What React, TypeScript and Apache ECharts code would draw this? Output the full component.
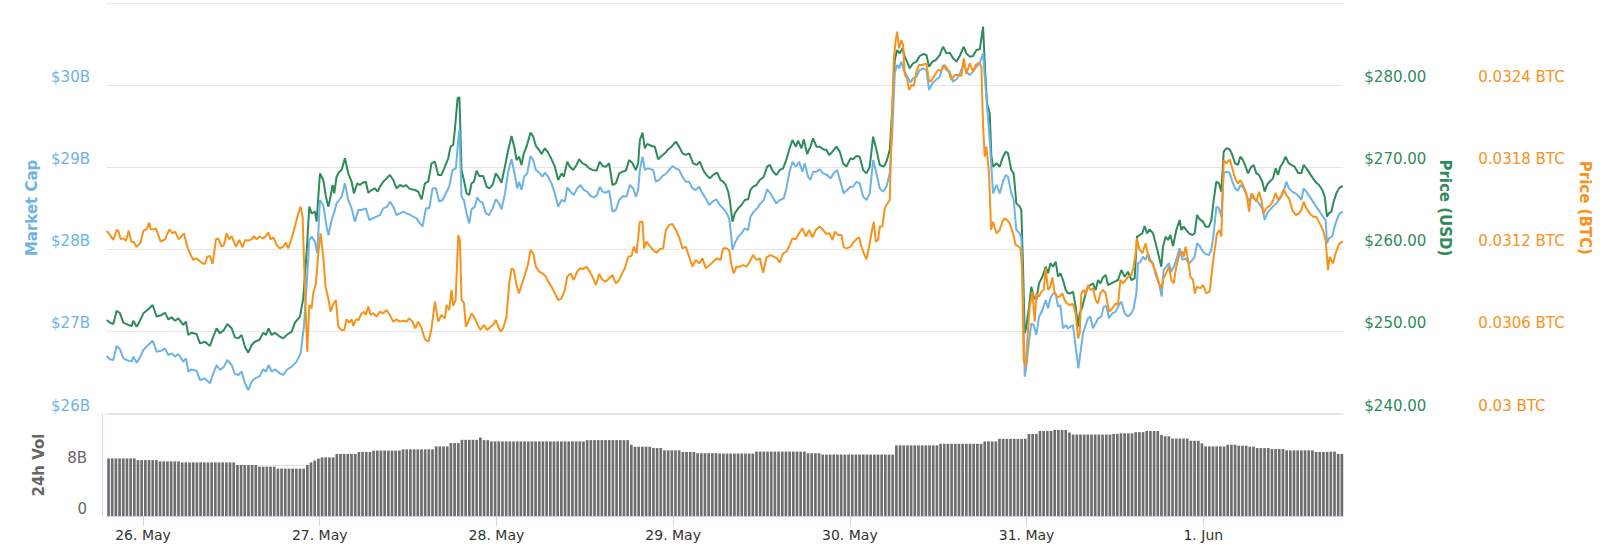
import React, { useEffect, useRef } from "react";
import * as echarts from "echarts";

// x values are hours relative to 26 May 2019 00:00 UTC
const RANGE_START_H = -4.93;
const RANGE_END_H = 163.07;

const dayTicksH = [0, 24, 48, 72, 96, 120, 144];
const dayLabels = ["26. May", "27. May", "28. May", "29. May", "30. May", "31. May", "1. Jun"];

// Market cap (billions USD)
const marketCapB: [number, number][] = [
  [-4.94,26.695],[-4.48,26.654],[-4.03,26.646],[-3.58,26.817],[-3.12,26.776],[-2.67,26.666],[-1.99,26.638],[-1.54,26.626],[-1.31,26.687],[-0.86,26.613],[-0.41,26.678],[0.05,26.768],[0.72,26.829],[1.31,26.881],[1.86,26.747],[2.53,26.760],[2.99,26.788],[3.44,26.707],[3.89,26.727],[4.35,26.687],[4.80,26.719],[5.48,26.626],[5.84,26.666],[6.16,26.504],[6.61,26.532],[7.29,26.516],[7.74,26.402],[8.42,26.422],[9.10,26.361],[9.55,26.483],[10.01,26.585],[10.46,26.524],[11.00,26.565],[11.46,26.646],[12.05,26.585],[12.50,26.475],[12.95,26.463],[13.40,26.504],[13.86,26.361],[14.31,26.280],[14.76,26.382],[15.21,26.422],[15.80,26.443],[16.35,26.532],[16.71,26.504],[17.07,26.585],[17.48,26.504],[17.93,26.532],[18.61,26.483],
  [19.06,26.463],[19.52,26.524],[20.20,26.565],[20.88,26.626],[21.42,26.727],[21.87,27.052],[22.23,27.540],[22.60,28.108],[22.91,28.149],[23.37,28.088],[23.68,27.946],[24.05,28.596],[24.50,28.535],[24.95,28.271],[25.22,28.169],[25.63,28.352],[25.95,28.433],[26.31,28.555],[26.67,28.596],[26.99,28.637],[27.44,28.799],[27.89,28.596],[28.35,28.494],[28.80,28.332],[29.25,28.474],[29.71,28.474],[30.29,28.494],[30.75,28.352],[31.20,28.372],[31.74,28.393],[32.20,28.413],[32.65,28.494],[33.19,28.515],[33.55,28.576],[34.01,28.515],[34.46,28.413],[34.91,28.433],[35.37,28.454],[35.82,28.433],[36.36,28.413],[36.72,28.393],[37.18,28.372],[37.63,28.311],[37.99,28.271],[38.45,28.494],[38.90,28.494],[39.35,28.738],[39.80,28.738],[40.26,28.576],[40.71,28.596],[41.16,28.677],[41.61,28.758],[42.07,28.962],[42.52,28.982],[42.84,29.33],[43.0,29.45],
  [43.29,28.637],[43.61,28.596],[43.97,28.433],[44.33,28.311],[44.65,28.482],[45.10,28.515],[45.42,28.628],[45.78,28.576],[46.14,28.563],[46.60,28.433],[47.05,28.413],[47.50,28.494],[47.95,28.604],[48.41,28.555],[48.72,28.482],[49.18,28.669],[49.63,28.941],[50.08,29.092],[50.45,28.941],[50.85,28.738],[51.12,28.819],[51.44,28.718],[51.80,28.880],[52.21,28.921],[52.66,29.132],[53.03,29.083],[53.39,28.962],[53.84,28.929],[54.29,28.880],[54.61,28.929],[55.06,28.880],[55.52,28.799],[55.97,28.677],[56.42,28.515],[56.88,28.596],[57.33,28.576],[57.65,28.750],[58.10,28.698],[58.55,28.657],[59.00,28.738],[59.46,28.779],[59.91,28.718],[60.36,28.698],[60.81,28.645],[61.27,28.628],[61.72,28.657],[62.08,28.758],[62.45,28.698],[62.90,28.685],[63.35,28.710],[63.80,28.454],[64.26,28.474],[64.71,28.596],[65.25,28.645],[65.71,28.637],[66.16,28.779],[66.61,28.738],[66.97,28.637],[67.29,28.718],[67.52,28.962],
  [67.88,29.124],[68.20,28.962],[68.65,28.982],[69.33,28.962],[69.69,28.819],[70.14,28.840],[70.60,28.889],[71.05,28.913],[71.50,28.962],[71.95,29.010],[72.41,28.982],[72.86,28.962],[73.31,28.880],[73.77,28.819],[74.22,28.819],[74.67,28.738],[75.12,28.718],[75.58,28.758],[76.03,28.677],[76.48,28.616],[76.94,28.535],[77.39,28.576],[77.93,28.604],[78.38,28.535],[78.84,28.494],[79.20,28.454],[79.65,28.372],[79.88,28.210],[80.11,27.987],[80.42,28.068],[80.88,28.149],[81.33,28.189],[81.78,28.251],[82.23,28.230],[82.55,28.393],[83.00,28.454],[83.46,28.494],[83.91,28.555],[84.36,28.596],[84.82,28.726],[85.27,28.677],[85.63,28.616],[86.08,28.555],[86.54,28.596],[87.08,28.616],[87.44,28.738],[87.80,28.921],[88.26,29.063],[88.71,29.002],[89.16,29.063],[89.61,28.941],[89.93,29.043],[90.38,28.880],[90.70,28.840],[91.06,28.941],[91.52,28.941],[91.97,28.970],
  [92.42,28.921],[92.97,28.901],[93.42,28.860],[93.87,28.921],[94.33,28.962],[94.78,28.819],[95.23,28.677],[95.68,28.718],[96.14,28.758],[96.50,28.758],[96.95,28.819],[97.40,28.799],[97.86,28.637],[98.31,28.596],[98.76,28.677],[99.22,29.083],[99.67,28.921],[100.12,28.738],[100.57,28.698],[101.03,28.758],[101.48,28.921],[101.84,29.449],[102.16,30.140],[102.48,30.241],[102.75,30.201],[103.06,30.282],[103.38,30.180],[103.83,30.107],[104.29,30.026],[104.65,30.079],[105.10,30.099],[105.55,30.180],[106.01,30.201],[106.46,30.180],[106.82,29.937],[107.28,30.018],[107.73,30.058],[108.27,30.099],[108.73,30.241],[109.18,30.180],[109.63,30.160],[110.08,30.038],[110.54,30.067],[110.99,30.132],[111.53,30.262],[111.89,30.160],[112.35,30.119],[112.80,30.160],[113.25,30.221],[113.71,30.262],[114.16,30.384],[114.39,30.099],[114.70,29.733],[115.06,29.327],[115.29,29.002],[115.52,28.677],[115.97,28.779],[116.42,28.677],
  [116.87,28.819],[117.24,28.901],[117.55,28.880],[118.00,28.677],[118.32,28.596],[118.68,28.230],[119.14,28.189],[119.36,28.129],[119.59,27.377],[119.82,26.443],[120.04,26.565],[120.41,26.889],[120.72,27.093],[121.04,27.072],[121.40,26.951],[121.76,27.174],[122.22,27.255],[122.67,27.377],[122.99,27.276],[123.30,27.398],[123.67,27.458],[124.03,27.458],[124.34,27.296],[124.66,27.316],[125.02,27.032],[125.39,27.072],[125.70,27.032],[126.02,27.052],[126.38,27.072],[126.74,26.808],[127.11,26.544],[127.38,26.727],[127.74,26.971],[128.10,27.072],[128.42,27.154],[128.74,27.174],[129.10,27.032],[129.46,27.093],[129.78,27.154],[130.23,27.174],[130.55,27.296],[130.91,27.304],[131.27,27.154],[131.73,27.215],[132.18,27.235],[132.63,27.316],[132.95,27.357],[133.40,27.215],[133.85,27.174],[134.31,27.215],[134.62,27.276],[134.99,27.458],[135.21,27.824],[135.53,27.844],[135.89,27.905],[136.25,27.865],[136.57,27.946],[136.89,27.865],[137.25,27.824],[137.61,27.682],[138.06,27.580],[138.43,27.418],[138.70,27.743],[139.06,27.783],[139.42,27.824],[139.74,27.723],[140.19,27.804],[140.87,28.007],
  [141.24,27.865],[141.69,27.885],[142.15,27.824],[142.60,27.865],[142.92,27.905],[143.23,28.068],[143.60,28.035],[144.05,27.966],[144.41,27.938],[144.86,27.926],[145.18,27.987],[145.50,28.190],[145.86,28.515],[146.22,28.494],[146.54,28.393],[146.86,28.921],[147.22,28.941],[147.67,28.929],[148.03,28.819],[148.40,28.738],[148.80,28.710],[149.12,28.779],[149.57,28.738],[149.94,28.657],[150.30,28.576],[150.61,28.637],[150.93,28.616],[151.29,28.596],[151.66,28.555],[152.11,28.494],[152.43,28.352],[152.74,28.433],[153.10,28.474],[153.56,28.515],[154.01,28.555],[154.37,28.596],[154.69,28.637],[155.01,28.698],[155.37,28.819],[155.73,28.738],[156.18,28.698],[156.64,28.677],[157.09,28.637],[157.41,28.596],[157.72,28.738],[158.18,28.685],[158.54,28.637],[158.99,28.576],[159.44,28.515],[159.90,28.454],[160.35,28.393],[160.71,28.352],[160.89,28.068],[161.16,28.129],[161.62,28.157],[161.93,28.271],[162.30,28.372],[162.61,28.433],[163.07,28.454]
];

// Price (USD)
const priceUsd: [number, number][] = [
  [-4.94,251.34],[-4.48,251.01],[-4.03,250.85],[-3.58,252.47],[-3.12,252.15],[-2.67,251.01],[-1.99,250.73],[-1.54,250.60],[-1.31,251.25],[-0.86,250.52],[-0.41,251.25],[0.05,252.15],[0.72,252.64],[1.31,253.16],[1.86,251.74],[2.53,251.94],[2.99,252.23],[3.44,251.41],[3.89,251.66],[4.35,251.25],[4.80,251.54],[5.48,250.73],[5.84,251.13],[6.16,249.51],[6.61,249.79],[7.29,249.63],[7.74,248.49],[8.42,248.69],[9.10,248.17],[9.55,249.30],[10.01,250.32],[10.46,249.71],[11.00,250.11],[11.46,250.85],[12.05,250.32],[12.50,249.22],[12.95,249.10],[13.40,249.51],[13.86,248.08],[14.31,247.35],[14.76,248.29],[15.21,248.69],[15.80,248.90],[16.35,249.79],[16.71,249.51],[17.07,250.32],[17.48,249.51],[17.93,249.79],[18.61,249.30],
  [19.06,249.10],[19.52,249.51],[20.20,249.91],[20.65,251.01],[21.33,251.74],[21.78,253.97],[22.23,259.46],[22.60,265.15],[22.91,264.33],[23.37,264.54],[23.59,263.32],[24.05,269.21],[24.50,268.40],[24.86,266.37],[25.18,265.15],[25.40,265.96],[25.77,267.79],[25.99,266.77],[26.31,268.80],[26.67,269.41],[26.99,269.62],[27.44,271.04],[27.89,269.21],[28.35,268.19],[28.66,266.77],[29.12,267.99],[29.48,267.79],[29.84,268.07],[30.29,268.19],[30.61,266.85],[31.06,267.18],[31.52,267.38],[31.88,266.98],[32.20,267.59],[32.65,268.19],[33.10,268.60],[33.55,269.01],[34.01,268.40],[34.46,267.38],[34.91,267.79],[35.37,267.59],[35.73,267.79],[36.18,267.38],[36.50,267.26],[36.95,267.18],[37.40,266.98],[37.86,266.04],[38.31,267.99],[38.76,268.19],[39.21,270.43],[39.67,270.63],[40.12,269.01],[40.57,269.01],[41.03,270.02],[41.48,271.04],[41.80,272.46],[42.16,272.66],[42.38,274.49],[42.75,278.35],[43.0,278.5],
  [43.29,269.62],[43.61,268.40],[43.97,266.77],[44.33,266.57],[44.65,267.99],[44.97,268.19],[45.33,269.54],[45.69,268.89],[46.23,268.89],[46.69,267.59],[47.05,267.38],[47.50,267.79],[47.95,269.21],[48.27,268.80],[48.72,268.07],[49.18,270.02],[49.63,272.05],[50.08,273.76],[50.45,272.46],[50.76,270.83],[51.12,271.24],[51.44,270.23],[51.76,271.65],[52.12,272.46],[52.66,274.17],[53.03,273.68],[53.39,272.54],[53.84,272.05],[54.16,271.57],[54.61,272.26],[55.06,271.73],[55.52,270.92],[55.97,270.02],[56.42,268.40],[56.88,269.21],[57.19,268.80],[57.65,270.63],[58.01,270.02],[58.46,269.62],[58.91,270.23],[59.28,270.92],[59.73,270.43],[60.18,270.23],[60.63,269.82],[61.09,269.62],[61.63,269.54],[62.08,270.63],[62.45,270.10],[62.90,270.02],[63.35,270.43],[63.80,267.79],[64.26,267.99],[64.71,269.21],[65.16,269.41],[65.62,269.54],[66.07,270.83],[66.52,270.43],[66.97,269.62],[67.29,270.43],[67.52,273.27],
  [67.88,274.17],[68.20,272.26],[68.51,272.79],[69.10,272.54],[69.55,272.46],[70.01,270.92],[70.46,271.32],[70.91,271.65],[71.37,272.14],[71.82,272.46],[72.41,273.07],[72.86,272.46],[73.31,271.65],[73.77,271.45],[74.22,271.65],[74.76,270.43],[75.21,270.23],[75.67,270.63],[76.12,269.62],[76.57,269.01],[77.03,268.60],[77.48,269.01],[78.02,269.29],[78.48,268.40],[78.84,268.19],[79.20,267.79],[79.52,266.98],[79.74,265.96],[80.11,263.32],[80.42,264.33],[80.88,264.94],[81.33,265.35],[81.78,265.96],[82.23,266.04],[82.55,267.18],[82.91,267.59],[83.37,267.79],[83.82,268.40],[84.36,268.80],[84.82,270.02],[85.18,270.23],[85.63,269.41],[86.08,269.01],[86.54,269.62],[86.99,269.82],[87.44,270.92],[87.80,272.05],[88.26,273.27],[88.71,272.46],[89.03,273.19],[89.48,272.26],[89.80,273.35],[90.25,271.57],[90.70,272.46],[91.06,273.48],[91.52,272.46],[91.97,272.46],
  [92.42,272.14],[92.88,272.05],[93.24,271.45],[93.69,271.85],[94.23,272.46],[94.69,271.85],[95.14,270.43],[95.59,270.02],[96.14,271.04],[96.50,270.92],[96.95,271.32],[97.40,271.24],[97.86,269.62],[98.31,269.21],[98.76,270.02],[99.22,273.68],[99.67,272.05],[100.12,270.23],[100.66,270.02],[101.03,270.63],[101.48,272.05],[101.84,277.33],[102.16,283.02],[102.48,284.24],[102.84,283.83],[103.20,284.44],[103.52,283.43],[103.83,282.82],[104.20,282.01],[104.65,282.62],[105.10,282.82],[105.55,283.51],[106.01,283.75],[106.46,283.63],[106.82,282.21],[107.28,282.82],[107.73,283.02],[108.27,283.63],[108.73,284.65],[109.18,283.83],[109.63,283.92],[110.08,283.23],[110.54,282.82],[110.99,283.51],[111.53,284.65],[111.89,283.83],[112.35,283.43],[112.80,283.51],[113.25,284.24],[113.71,284.32],[114.16,287.09],[114.43,281.80],[114.70,277.74],[115.06,276.52],[115.29,271.24],[115.52,270.02],[115.97,270.43],[116.42,270.02],
  [116.87,271.24],[117.24,271.85],[117.55,271.65],[118.00,269.62],[118.32,269.21],[118.68,265.55],[119.14,265.15],[119.36,264.74],[119.59,257.83],[119.82,249.71],[120.04,250.52],[120.41,252.96],[120.72,255.39],[121.04,254.18],[121.40,253.77],[121.76,255.80],[122.22,256.61],[122.67,257.83],[122.99,257.02],[123.30,258.24],[123.67,257.83],[124.03,258.44],[124.34,256.61],[124.66,257.02],[125.02,256.21],[125.39,254.99],[125.70,254.58],[126.02,254.58],[126.38,254.79],[126.74,252.96],[127.06,250.52],[127.29,252.15],[127.65,252.96],[128.10,254.58],[128.42,255.40],[128.74,255.60],[129.10,255.80],[129.46,254.99],[129.78,256.21],[130.10,255.80],[130.46,256.53],[130.82,256.82],[131.14,255.60],[131.59,255.80],[132.04,256.01],[132.50,256.21],[132.95,257.43],[133.40,256.61],[133.85,257.22],[134.31,256.21],[134.76,256.41],[135.08,261.49],[135.44,261.69],[135.80,261.90],[136.12,262.79],[136.43,261.90],[136.80,262.38],[137.25,261.90],[137.61,260.68],[138.06,259.05],[138.38,257.83],[138.61,260.27],[138.97,261.49],[139.29,261.08],[139.61,261.69],[139.97,260.35],[140.42,262.30],[140.87,263.52],
  [141.10,262.30],[141.42,262.71],[141.78,262.30],[142.15,261.90],[142.60,261.69],[142.92,261.90],[143.23,264.13],[143.60,263.60],[144.05,263.32],[144.41,262.71],[144.86,262.71],[145.18,263.52],[145.50,265.96],[145.86,268.19],[146.22,267.99],[146.54,266.98],[146.86,271.85],[147.22,272.26],[147.67,272.14],[148.03,271.45],[148.40,270.43],[148.80,270.23],[149.12,271.24],[149.48,270.83],[149.84,270.02],[150.16,269.21],[150.61,270.02],[150.93,270.23],[151.29,269.21],[151.66,269.01],[152.11,268.19],[152.43,266.98],[152.74,267.79],[153.10,268.19],[153.56,268.60],[153.92,269.82],[154.24,269.01],[154.55,270.02],[154.92,270.51],[155.28,271.24],[155.64,270.51],[156.05,270.23],[156.50,270.02],[156.95,269.29],[157.41,269.21],[157.72,270.23],[158.09,269.82],[158.54,269.21],[158.99,268.60],[159.44,268.07],[159.81,267.79],[160.26,267.18],[160.58,266.37],[160.89,263.93],[161.16,264.33],[161.48,264.54],[161.80,265.76],[162.16,266.77],[162.52,267.38],[162.84,267.59],[163.07,267.59]
];

// Price (BTC)
const priceBtc: [number, number][] = [
  [-4.94,0.031331],[-4.48,0.031302],[-4.03,0.031265],[-3.58,0.031338],[-3.35,0.031333],[-3.03,0.031270],[-2.67,0.031277],[-2.31,0.031260],[-1.95,0.031333],[-1.59,0.031253],[-1.31,0.031253],[-0.86,0.031216],[-0.32,0.031246],[0.05,0.031333],[0.50,0.031343],[0.86,0.031392],[1.04,0.031343],[1.40,0.031343],[1.77,0.031350],[2.40,0.031253],[2.99,0.031270],[3.58,0.031343],[4.03,0.031314],[4.39,0.031326],[4.84,0.031270],[5.25,0.031294],[5.57,0.031314],[6.02,0.031216],[6.38,0.031168],[6.84,0.031119],[7.29,0.031131],[7.97,0.031099],[8.42,0.031090],[8.74,0.031143],[9.10,0.031148],[9.46,0.031090],[9.92,0.031270],[10.23,0.031277],[10.69,0.031216],[11.00,0.031229],[11.37,0.031314],[11.73,0.031270],[12.05,0.031294],[12.63,0.031216],[13.09,0.031265],[13.54,0.031212],[13.90,0.031265],[14.31,0.031260],[14.76,0.031270],[15.08,0.031294],[15.44,0.031270],[15.80,0.031290],[16.26,0.031277],[16.62,0.031290],[17.03,0.031319],[17.34,0.031270],[17.71,0.031285],[18.16,0.031229],[18.61,0.031204],
  [19.06,0.031216],[19.43,0.031246],[19.74,0.031204],[20.20,0.031277],[20.65,0.031363],[21.10,0.031460],[21.42,0.031509],[21.69,0.031436],[22.01,0.030900],[22.32,0.030449],[22.60,0.030790],[22.91,0.030765],[23.14,0.030875],[23.50,0.030948],[23.82,0.031168],[24.14,0.031314],[24.50,0.031143],[24.81,0.030924],[25.18,0.030839],[25.49,0.030741],[25.86,0.030797],[26.22,0.030826],[26.54,0.030631],[26.99,0.030607],[27.35,0.030607],[27.67,0.030685],[28.03,0.030661],[28.35,0.030685],[28.57,0.030636],[28.94,0.030685],[29.30,0.030680],[29.66,0.030724],[30.02,0.030741],[30.29,0.030717],[30.61,0.030778],[30.93,0.030717],[31.29,0.030729],[31.74,0.030705],[32.20,0.030741],[32.65,0.030729],[33.10,0.030753],[33.55,0.030717],[34.01,0.030668],[34.46,0.030685],[34.91,0.030668],[35.37,0.030675],[35.82,0.030668],[36.18,0.030692],[36.63,0.030668],[37.00,0.030619],[37.40,0.030668],[37.86,0.030619],[38.31,0.030539],[38.81,0.030522],[39.21,0.030619],[39.67,0.030814],[40.12,0.030668],[40.57,0.030717],[41.03,0.030692],[41.25,0.030790],[41.61,0.030753],[41.93,0.030900],[42.16,0.030783],[42.48,0.030826],[42.84,0.031302],[43.06,0.031265],
  [43.29,0.030826],[43.61,0.030807],[43.88,0.030631],[44.20,0.030668],[44.65,0.030729],[45.10,0.030692],[45.55,0.030636],[45.87,0.030607],[46.32,0.030644],[46.78,0.030607],[47.23,0.030631],[47.59,0.030644],[47.95,0.030680],[48.27,0.030631],[48.59,0.030595],[48.95,0.030619],[49.40,0.030705],[49.77,0.030948],[50.08,0.031058],[50.40,0.031046],[50.76,0.030936],[51.12,0.030875],[51.44,0.030936],[51.89,0.031009],[52.35,0.031094],[52.66,0.031192],[53.03,0.031168],[53.39,0.031070],[53.84,0.031034],[54.29,0.031021],[54.75,0.030997],[55.06,0.030961],[55.52,0.030924],[55.97,0.030875],[56.42,0.030826],[56.88,0.030839],[57.33,0.030900],[57.65,0.030997],[58.10,0.031021],[58.55,0.030973],[59.00,0.031034],[59.37,0.031058],[59.82,0.031051],[60.27,0.031070],[60.72,0.031034],[61.18,0.030985],[61.54,0.030936],[61.99,0.031016],[62.45,0.030973],[62.90,0.030961],[63.35,0.030985],[63.80,0.031009],[64.26,0.030948],[64.71,0.030973],[65.16,0.031026],[65.48,0.031058],[65.93,0.031143],[66.38,0.031148],[66.70,0.031216],[67.06,0.031168],[67.52,0.031399],
  [67.88,0.031399],[68.10,0.031204],[68.42,0.031253],[68.88,0.031221],[69.33,0.031192],[69.78,0.031172],[70.23,0.031197],[70.69,0.031204],[71.05,0.031338],[71.50,0.031375],[71.95,0.031382],[72.41,0.031338],[72.86,0.031285],[73.31,0.031204],[73.77,0.031216],[74.22,0.031143],[74.67,0.031070],[75.12,0.031119],[75.58,0.031094],[76.03,0.031131],[76.48,0.031058],[77.03,0.031082],[77.48,0.031107],[78.02,0.031131],[78.48,0.031119],[78.84,0.031204],[79.29,0.031204],[79.65,0.031192],[79.97,0.031082],[80.29,0.031021],[80.65,0.031070],[81.10,0.031070],[81.55,0.031082],[82.01,0.031070],[82.46,0.031107],[82.91,0.031155],[83.37,0.031119],[83.82,0.031131],[84.27,0.031026],[84.72,0.031138],[85.27,0.031155],[85.72,0.031143],[86.17,0.031131],[86.54,0.031099],[86.99,0.031168],[87.44,0.031180],[87.89,0.031229],[88.26,0.031277],[88.71,0.031270],[89.16,0.031314],[89.61,0.031350],[90.07,0.031290],[90.52,0.031338],[90.97,0.031285],[91.43,0.031338],[91.97,0.031363],
  [92.42,0.031338],[92.88,0.031309],[93.33,0.031314],[93.69,0.031265],[94.01,0.031326],[94.46,0.031302],[94.91,0.031302],[95.23,0.031211],[95.68,0.031204],[96.14,0.031216],[96.50,0.031246],[96.95,0.031270],[97.31,0.031285],[97.63,0.031216],[97.95,0.031168],[98.31,0.031124],[98.67,0.031216],[98.99,0.031314],[99.31,0.031399],[99.58,0.031253],[99.89,0.031265],[100.12,0.031363],[100.48,0.031363],[100.80,0.031497],[101.12,0.031528],[101.48,0.031558],[101.71,0.032045],[102.02,0.032581],[102.30,0.032728],[102.48,0.032789],[102.75,0.032667],[103.06,0.032728],[103.29,0.032691],[103.52,0.032472],[103.83,0.032447],[104.11,0.032362],[104.42,0.032399],[104.74,0.032391],[105.10,0.032496],[105.46,0.032545],[105.92,0.032545],[106.46,0.032557],[106.82,0.032423],[107.14,0.032430],[107.59,0.032472],[108.05,0.032508],[108.50,0.032503],[108.95,0.032545],[109.40,0.032508],[109.86,0.032435],[110.31,0.032472],[110.76,0.032472],[111.22,0.032464],[111.53,0.032594],[111.89,0.032479],[112.35,0.032557],[112.80,0.032496],[113.16,0.032545],[113.62,0.032562],[113.93,0.032533],[114.16,0.032094],[114.39,0.031875],[114.61,0.031948],[114.97,0.031753],[115.25,0.031338],[115.52,0.031399],[115.97,0.031314],[116.42,0.031338],
  [116.78,0.031399],[117.10,0.031424],[117.42,0.031411],[117.78,0.031387],[118.23,0.031314],[118.59,0.031229],[118.91,0.031221],[119.23,0.031204],[119.45,0.031070],[119.68,0.030388],[119.95,0.030339],[120.27,0.030607],[120.50,0.030778],[120.86,0.030887],[121.18,0.030668],[121.40,0.030875],[121.76,0.030851],[122.08,0.030887],[122.40,0.030900],[122.67,0.031058],[122.99,0.030900],[123.30,0.030924],[123.58,0.030992],[123.89,0.030875],[124.21,0.030851],[124.57,0.030851],[124.93,0.030875],[125.25,0.030826],[125.57,0.030802],[125.93,0.030790],[126.38,0.030797],[126.74,0.030729],[127.06,0.030546],[127.29,0.030583],[127.51,0.030875],[127.83,0.030900],[128.10,0.030863],[128.42,0.030936],[128.74,0.030900],[129.10,0.030912],[129.46,0.030826],[129.78,0.030802],[130.10,0.030875],[130.46,0.030900],[130.82,0.030875],[131.27,0.030741],[131.73,0.030765],[132.18,0.030802],[132.50,0.030790],[132.81,0.030973],[133.18,0.030948],[133.54,0.030973],[133.85,0.030997],[134.31,0.031009],[134.62,0.031070],[134.90,0.031168],[135.08,0.031277],[135.35,0.031204],[135.80,0.031168],[136.25,0.031241],[136.71,0.031119],[137.16,0.031094],[137.61,0.031034],[138.06,0.030948],[138.38,0.030912],[138.61,0.030973],[139.06,0.031026],[139.42,0.031070],[139.74,0.030973],[140.06,0.030948],[140.42,0.031070],[140.87,0.031168],
  [141.24,0.031180],[141.42,0.031143],[141.69,0.031216],[142.01,0.031119],[142.33,0.030997],[142.69,0.030973],[142.92,0.030875],[143.23,0.030924],[143.69,0.030912],[144.05,0.030936],[144.50,0.030875],[144.95,0.030887],[145.18,0.030997],[145.50,0.031143],[145.95,0.031314],[146.31,0.031338],[146.54,0.031290],[146.86,0.031850],[147.22,0.031826],[147.67,0.031855],[148.03,0.031789],[148.40,0.031716],[148.80,0.031679],[149.12,0.031704],[149.57,0.031655],[149.94,0.031606],[150.30,0.031472],[150.61,0.031606],[150.93,0.031582],[151.29,0.031545],[151.66,0.031618],[151.97,0.031558],[152.29,0.031460],[152.65,0.031497],[153.10,0.031514],[153.47,0.031538],[153.92,0.031611],[154.24,0.031558],[154.60,0.031582],[155.01,0.031636],[155.37,0.031594],[155.73,0.031570],[156.18,0.031484],[156.64,0.031448],[157.09,0.031460],[157.41,0.031484],[157.72,0.031545],[158.09,0.031497],[158.54,0.031460],[158.99,0.031436],[159.44,0.031436],[159.90,0.031387],[160.35,0.031338],[160.71,0.031265],[161.03,0.031046],[161.26,0.031143],[161.71,0.031094],[162.07,0.031168],[162.39,0.031216],[162.61,0.031241],[163.07,0.031253]
];

// 24h volume (billions USD), one bar every half hour
const volumeStartH = -4.68;
const volumeStepH = 0.5;
const volume24hB: number[] = [
  9.03,9.03,9.03,9.03,9.03,9.03,9.03,9.03, 8.77,8.77,8.77,8.77,8.77,8.77, 8.57,8.57,8.57,8.57,8.57,8.57,
  8.41,8.41,8.41,8.41,8.41,8.41,8.41,8.41,8.41,8.41,8.41,8.41,8.41,8.41,8.41, 8.0,8.0,8.0,8.0,8.0,8.0,
  7.74,7.74,7.74,7.74,7.74, 7.44,7.44,7.44,7.44,7.44,7.44,7.44,7.44, 8.0,8.4,8.7,9.0, 9.2,9.2,9.2,9.2,
  9.74,9.74,9.74,9.74,9.74,9.74, 10.05,10.05,10.05,10.05, 10.26,10.26,10.26,10.26,10.26,10.26,10.26,10.26,
  10.46,10.46,10.46,10.46,10.46,10.46,10.46,10.46,10.46, 10.92,10.92,10.92,10.92, 11.44,11.44,11.44,
  11.95,11.95,11.95,11.95,11.95, 12.3, 11.9,11.9,
  11.7,11.7,11.7,11.7,11.7,11.7,11.7,11.7,11.7,11.7,11.7,11.7,11.7,11.7,11.7,11.7,11.7,11.7,11.7,11.7,11.7,11.7,11.7,11.7,11.7,11.7,
  11.9,11.9,11.9,11.9,11.9,11.9,11.9,11.9,11.9,11.9,11.9,11.9, 11.18, 10.87,10.87,10.87,10.87,10.87,
  10.66,10.66,10.66, 10.3,10.3,10.3,10.3,10.3, 10.05,10.05,10.05,10.05, 9.85,9.85,9.85,9.85,9.85,9.85,
  9.8,9.8,9.8,9.8,9.8,9.8,9.8,9.8,9.8,9.8, 10.1,10.1,10.1,10.1,10.1,10.1,10.1,10.1,10.1,10.1,10.1,10.1,10.1,10.1,
  9.85,9.85,9.85,9.85, 9.64,9.64,9.64,9.64,9.64,9.64,9.64,9.64,9.64,9.64,9.64,9.64,9.64,9.64,9.64,9.64,9.64,9.64,9.64,9.64,
  11.08,11.08,11.08,11.08,11.08,11.08,11.08,11.08,11.08,11.08,11.08,11.08,
  11.33,11.33,11.33,11.33,11.33,11.33,11.33,11.33,11.33,11.33,11.33,11.33, 11.7,11.7,11.7,11.7,
  12.1,12.1,12.1,12.1,12.1,12.1,12.1,12.1, 12.87,12.87,12.87, 13.33,13.33,13.33,13.33, 13.5,13.5,13.5,13.5, 13.1,
  12.77,12.77,12.77,12.77,12.77,12.77,12.77,12.77,12.77,12.77,12.77, 12.87,12.87, 12.97,12.97,12.97,12.97,
  13.15,13.15,13.15, 13.33,13.33,13.33,13.33, 12.7, 12.5,12.5, 12.15,12.15,12.15,12.15,12.15, 11.8,11.8,11.8, 11.4,
  10.92,10.92,10.92,10.92,10.92,10.92, 11.18,11.18,11.18, 11.03,11.03,11.03, 10.87,10.87, 10.66,10.66,10.66,10.66,
  10.51,10.51,10.51,10.51, 10.3,10.3,10.3,10.3,10.3,10.3,10.3,10.3, 10.05,10.05,10.05,10.05, 10.1,10.1, 9.74,9.74
];

const FONT = "'DejaVu Sans', 'Lucida Grande', sans-serif";
const BLUE = "#6db3e6";
const GREEN = "#2e8b5a";
const ORANGE = "#f7931a";
const GRID_LINE = "#e6e6e6";
const AXIS_LINE = "#ccd6eb";

const PLOT_LEFT = 106.7;
const PLOT_WIDTH = 1237;

export default function App() {
  const ref = useRef<HTMLDivElement>(null);

  useEffect(() => {
    document.body.style.margin = "0";
    const chart = echarts.init(ref.current!, null, { renderer: "svg" });

    const option: any = {
      animation: false,
      grid: [
        { left: PLOT_LEFT, top: 2.75, width: PLOT_WIDTH, height: 410.25 },
        { left: PLOT_LEFT, top: 414, width: PLOT_WIDTH, height: 102 },
      ],
      xAxis: [
        { type: "value", gridIndex: 0, min: RANGE_START_H, max: RANGE_END_H, show: false, splitLine: { show: false } },
        {
          type: "value",
          gridIndex: 1,
          min: RANGE_START_H,
          max: RANGE_END_H,
          axisLine: { show: true, onZero: false, lineStyle: { color: AXIS_LINE, width: 1 } },
          axisTick: { show: true, length: 10, lineStyle: { color: AXIS_LINE, width: 1 }, customValues: dayTicksH },
          axisLabel: {
            customValues: dayTicksH,
            formatter: (v: number) => {
              const idx = dayTicksH.findIndex((d) => Math.abs(d - v) < 0.01);
              return idx >= 0 ? dayLabels[idx] : "";
            },
            color: "#333",
            fontSize: 14,
            fontFamily: FONT,
            margin: 12,
          },
          splitLine: { show: false },
        },
      ],
      yAxis: [
        {
          type: "value",
          gridIndex: 0,
          position: "left",
          min: 26,
          max: 31,
          interval: 1,
          name: "Market Cap",
          nameLocation: "middle",
          nameGap: 67,
          nameTextStyle: { color: BLUE, fontSize: 15, fontWeight: "bold", fontFamily: FONT },
          axisLine: { show: false, onZero: false },
          axisTick: { show: false },
          axisLabel: {
            formatter: (v: number) => `$${v}B`,
            showMaxLabel: false,
            color: BLUE,
            fontSize: 15,
            fontFamily: FONT,
            margin: 16.7,
            verticalAlign: "bottom",
          },
          splitLine: { show: true, lineStyle: { color: GRID_LINE, width: 1 } },
        },
        {
          type: "value",
          gridIndex: 0,
          position: "right",
          min: 240,
          max: 290,
          interval: 10,
          name: "Price (USD)",
          nameLocation: "middle",
          nameRotate: -90,
          nameGap: 93,
          nameTextStyle: { color: GREEN, fontSize: 15, fontWeight: "bold", fontFamily: FONT },
          axisLine: { show: false, onZero: false },
          axisTick: { show: false },
          axisLabel: {
            formatter: (v: number) => `$${v.toFixed(2)}`,
            showMaxLabel: false,
            color: GREEN,
            fontSize: 15,
            fontFamily: FONT,
            margin: 21.3,
            verticalAlign: "bottom",
          },
          splitLine: { show: false },
        },
        {
          type: "value",
          gridIndex: 0,
          position: "right",
          offset: 114,
          min: 0.03,
          max: 0.033,
          interval: 0.0006,
          name: "Price (BTC)",
          nameLocation: "middle",
          nameRotate: -90,
          nameGap: 120,
          nameTextStyle: { color: ORANGE, fontSize: 15, fontWeight: "bold", fontFamily: FONT },
          axisLine: { show: false, onZero: false },
          axisTick: { show: false },
          axisLabel: {
            formatter: (v: number) => `${parseFloat(v.toFixed(4))} BTC`,
            showMaxLabel: false,
            color: ORANGE,
            fontSize: 15,
            fontFamily: FONT,
            margin: 21.3,
            verticalAlign: "bottom",
          },
          splitLine: { show: false },
        },
        {
          type: "value",
          gridIndex: 1,
          position: "left",
          offset: 4,
          min: 0,
          max: 16,
          interval: 8,
          name: "24h Vol",
          nameLocation: "middle",
          nameGap: 56,
          nameTextStyle: { color: "#666", fontSize: 15, fontWeight: "bold", fontFamily: FONT },
          axisLine: { show: true, onZero: false, lineStyle: { color: AXIS_LINE, width: 1 } },
          axisTick: { show: false },
          axisLabel: {
            formatter: (v: number) => (v === 0 ? "0" : `${v}B`),
            showMaxLabel: false,
            color: "#666",
            fontSize: 15,
            fontFamily: FONT,
            margin: 15.7,
            verticalAlign: "bottom",
          },
          splitLine: { show: true, lineStyle: { color: GRID_LINE, width: 1 } },
        },
      ],
      series: [
        {
          name: "Price (USD)",
          type: "line",
          xAxisIndex: 0,
          yAxisIndex: 1,
          data: priceUsd,
          showSymbol: false,
          symbol: "none",
          lineStyle: { width: 2, color: GREEN },
          itemStyle: { color: GREEN },
          z: 3,
        },
        {
          name: "Market Cap",
          type: "line",
          xAxisIndex: 0,
          yAxisIndex: 0,
          data: marketCapB,
          showSymbol: false,
          symbol: "none",
          lineStyle: { width: 2, color: BLUE },
          itemStyle: { color: BLUE },
          z: 4,
        },
        {
          name: "Price (BTC)",
          type: "line",
          xAxisIndex: 0,
          yAxisIndex: 2,
          data: priceBtc,
          showSymbol: false,
          symbol: "none",
          lineStyle: { width: 2, color: ORANGE },
          itemStyle: { color: ORANGE },
          z: 5,
        },
        {
          name: "24h Vol",
          type: "bar",
          xAxisIndex: 1,
          yAxisIndex: 3,
          data: volume24hB.map((v, i) => [volumeStartH + i * volumeStepH, v]),
          barWidth: 2.7,
          itemStyle: { color: "#6e6e6e" },
        },
      ],
    };

    chart.setOption(option);
    return () => chart.dispose();
  }, []);

  return <div ref={ref} style={{ width: 1600, height: 548 }} />;
}
